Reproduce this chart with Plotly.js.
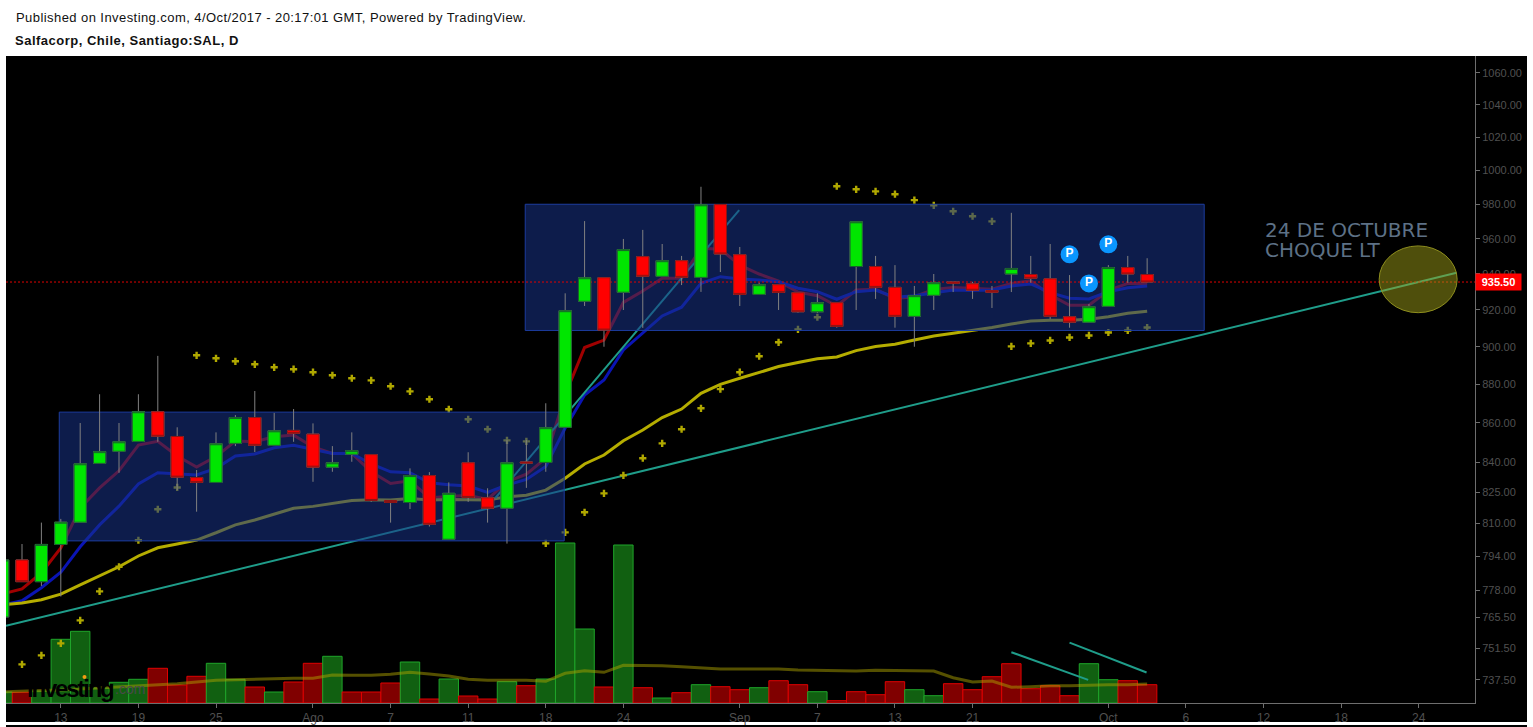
<!DOCTYPE html>
<html>
<head>
<meta charset="utf-8">
<script src="https://cdn.plot.ly/plotly-3.0.1.min.js"></script>
<style>html,body{margin:0;padding:0;background:#fff;overflow:hidden}#chart{width:1533px;height:727px}</style>
</head>
<body>
<div id="chart"></div>
<script>
// Session number of each daily bar (the first one is cut by the left edge)
var barIndex = [-1,0,1,2,3,4,5,6,7,8,9,10,11,12,13,14,15,16,17,18,19,20,21,22,23,24,25,26,27,28,29,30,31,32,33,34,35,36,37,38,39,40,41,42,43,44,45,46,47,48,49,50,51,52,53,54,55,56,57,58];

var opens = [765.8,792.3,782.1,799.7,810.4,839.4,845.5,850.5,865.7,853,832.3,829.9,849.5,862.7,848.5,856.1,854.2,837.5,844,843.8,821,820,833.3,802.2,839.7,822.3,817.2,840.1,839.9,857.7,924.8,937.9,929.8,949.8,938.7,947.5,938.1,979.8,950.9,928.6,934,929.5,919,924,944.2,944.2,932.5,916.5,928.1,935.5,934.5,930.7,940,939.7,937.3,916.3,913.3,922,943.6,939.7];
var closes = [792.3,782.1,799.7,810.4,839.2,845.3,850.3,865.7,853.1,832.5,829.9,849.3,862.7,848.5,855.9,854.6,837.5,839.7,845.8,821,820,833.3,809.4,824.5,822.5,817.2,839.7,839.6,857.5,919.6,937.9,909,953.8,938.7,947.5,938.1,979.7,951.3,928.6,934,929.7,919,924,911,969.8,932.5,916.5,927.9,935.1,934.8,930.9,929.8,943.1,937.6,916.5,913.3,921.8,943.6,940,935.5];
var highs = [792.3,799.9,810.2,812,859.9,874.8,859.9,874.8,895.1,857.7,836.1,855.1,864,876.5,865.1,867.1,859.7,848.1,855.1,843.8,821,836.9,835,829.9,845,827,851.2,851.2,870.1,929.2,970.2,937.9,959.9,965.1,957,950.2,990.3,979.8,955.3,935.1,934,929.5,929.2,924,969.8,950.2,945,933.3,940,935.5,935.6,933.3,975,950.2,957,939.4,923.3,945,950.2,948.9];
var lows = [765.8,782.1,780.1,775.2,810.4,839.4,834.7,850.5,850.3,826.1,815.5,829.9,848.1,845.1,848.5,850.3,830.2,835.2,840.2,820.3,810.2,816.8,808.3,802.2,820.3,810.2,800.1,827.2,835.2,857.7,922.2,900,920,910.2,938.7,933.8,930,941.1,922.2,928.6,920,918.5,918.3,910.3,920,926.1,910.3,900,920,929.9,926.1,921.1,929.9,935.1,915,910.3,913.3,922,935.1,935.5];

var fastMA = [776.4,778.7,786.2,798,817.3,827.2,835.7,848.6,850.5,843.1,837.6,842.8,850.7,850.3,852.9,853.7,847.7,844.4,844.4,835.2,829.4,830.7,822.3,823.1,823.6,821.5,830.2,834,842,874.4,899.6,903.6,924.2,930.5,937.6,937.6,954.6,954,945,940,936,929.9,927.9,922.2,931,931.4,926.4,927.3,931.4,932.5,931.9,931.5,934.7,936.2,928.3,922.6,922.6,930.8,934.7,934.7];
var midMA = [771.3,773.2,779.3,786.5,798.6,809.1,818.2,829.1,834.7,834.1,833.6,836.9,843.1,844.1,847.3,848.5,846.6,844.4,844.4,839.1,835.2,834.7,829.7,828.7,828.1,825,828.6,831.4,837.8,857.3,874.4,882.3,898.3,907.6,916.7,921.5,934.8,938.5,937.2,936.6,935.6,932,930.1,925.9,930.1,931,927,927.8,929.6,931,930.7,931,933.3,934.4,929.6,926.5,926.1,930.1,932.3,933.3];
var slowMA = [771.3,772.2,773.7,776.3,780.6,784.9,789.1,794.2,798.1,799.9,801.8,805.3,809.1,811.5,814.4,817.2,818.1,819.6,821,821.3,821.2,822,821.2,821.5,821.5,821.2,822.8,823.6,826.1,832,839.1,843.6,850.8,856.3,862.7,867.1,875.3,880,883.2,886.2,889.4,891.6,893.6,894.5,897.9,900.1,901.3,903.6,905.8,907.3,908.8,910.4,912.3,913.9,914.3,914.3,914.9,916.3,918.2,919.3];

var sarIndex = [0,1,2,3,4,5,6,7,8,9,10,11,12,13,14,15,16,17,18,19,20,21,22,23,24,25,26,27,28,29,30,31,32,33,34,35,36,37,38,39,40,41,42,43,44,45,46,47,48,49,50,51,52,53,54,55,56,57,58];
var sarValues = [744.4,748.4,753.8,764.2,777.6,789.1,801.7,816.7,827.4,895.4,893.8,892.2,890.6,889,888,886.4,884.8,883.2,882.1,879,876.3,872.2,867,861.8,856.7,851,850.5,800.2,805.5,815.2,824.5,833.4,842,849.5,856.7,867.5,877.5,886.4,894.9,902.4,909.4,916,990.6,988.8,987.6,985.9,982.4,979.4,975.9,973,970,900.2,901.8,903.4,905,906.1,907.7,908.8,910.4];

var volumes = [11,10.7,12,63.7,71.7,15,20.7,23.7,34.7,18,26.7,39.7,23.7,16,11,21,39.7,46.7,11,11,20,41,4,24,7,4,21.3,17.3,24,160,74,16,158,15.3,5,10.3,18.3,16.3,13.3,15.3,22.3,18.3,11.3,2.3,11.3,8.3,21.3,13.3,7.3,19.3,13.3,26.3,39.3,14.3,17.3,7.3,39.3,23.3,22.3,18.3];
var volumeUp = [1,0,1,1,1,1,1,1,0,0,0,1,1,0,1,0,0,1,0,0,0,1,0,1,0,0,1,0,1,1,1,0,1,0,1,0,1,0,0,1,0,0,1,0,0,0,0,1,1,0,0,0,0,0,0,0,1,1,0,0];
var volumeMA = [11,12,12.5,13,14,15,16,17.7,18.7,19.3,21,22.7,23.3,24,24.3,24.7,24.7,28,27.7,27.7,28.7,30.7,29,27,23.7,22.7,22.7,22.7,21.7,29.7,32.3,30.7,37.7,37.7,37.3,36.3,35.3,34,34,34,34,33,32.7,32,32,32.7,32.7,32,32,25.3,21,22,15.7,16.3,17.3,17.3,18,18.3,18.3,19];

// Hand-drawn studies
var trendX = [-0.825,73.95];
var trendY = [761.7,940.7];
var steepX = [24.4,36.97];
var steepY = [822.2,976.6];
var volLine1X = [51,54.96];
var volLine1Y = [749.8,737.5];
var volLine2X = [54,57.97];
var volLine2Y = [754.1,740.8];
var box1X = [1.92,27.95,27.95,1.92,1.92];
var box1Y = [801.4,801.4,865.5,865.5,801.4];
var box2X = [25.94,60.94,60.94,25.94,25.94];
var box2Y = [908.8,908.8,980,980,908.8];
var ellipseX = [69.96,73.98];
var ellipseY = [918.5,955.9];
var lastPrice = 935.5;
var priceLineX = [-0.825,74.9];
var pivotX = [54,55,56];
var pivotY = [951.1,934.7,956.8];

var priceTicks = [1060,1040,1020,1000,980,960,940,920,900,880,860,840,825,810,794,778,765.5,751.5,737.5];
var priceTickText = ['1060.00','1040.00','1020.00','1000.00','980.00','960.00','940.00','920.00','900.00','880.00','860.00','840.00','825.00','810.00','794.00','778.00','765.50','751.50','737.50'];
var dateTicks = [2,6,10,15,19,23,27,31,37,41,45,49,56,60,64,68,72];
var dateTickText = ['13','19','25','Ago','7','11','18','24','Sep','7','13','21','Oct','6','12','18','24'];

var FONT = '"Liberation Sans", Arial, sans-serif';
var PL = 6, PR = 1475, PT = 56, PB = 703;
function px(x){ return (x - PL) / (PR - PL); }
function py(y){ return (PB - y) / (PB - PT); }
var xRange = [-0.825, 74.9];
var logRange = [2.86177, 3.02971];

function line(x, y, color, width, dash){
  return {type:'scatter', mode:'lines', x:x, y:y, xaxis:'x2', yaxis:'y2', hoverinfo:'skip',
          line:{color:color, width:width, dash:dash || 'solid'}};
}
function box(x, y){
  return {type:'scatter', mode:'lines', x:x, y:y, xaxis:'x2', yaxis:'y2', hoverinfo:'skip',
          fill:'toself', fillcolor:'rgba(24,51,136,0.55)', line:{color:'#1c3c9e', width:1}};
}

var bodyHigh = opens.map(function(o,i){ return Math.max(o, closes[i]); });
var bodyLow = opens.map(function(o,i){ return Math.min(o, closes[i]); });

var traces = [
  // Volume pane
  {type:'bar', x:barIndex, y:volumes, xaxis:'x', yaxis:'y', width:1, hoverinfo:'skip',
   marker:{color:volumeUp.map(function(u){ return u ? '#116011' : '#800000'; }),
           line:{width:1, color:volumeUp.map(function(u){ return u ? '#1fa52a' : '#e00000'; })}}},
  {type:'scatter', mode:'lines', x:barIndex, y:volumeMA, xaxis:'x', yaxis:'y', hoverinfo:'skip',
   line:{color:'rgba(170,160,0,0.5)', width:3}},
  // Price pane: everything that the blue boxes tint
  line(barIndex, fastMA, '#a00000', 3),
  line(barIndex, midMA, '#0a14b4', 3),
  line(barIndex, slowMA, '#b5ad00', 3),
  line(trendX, trendY, '#1f9d8a', 2),
  line(steepX, steepY, '#1f9d8a', 2),
  line(volLine1X, volLine1Y, '#1f9d8a', 2),
  line(volLine2X, volLine2Y, '#1f9d8a', 2),
  {type:'scatter', mode:'markers', x:sarIndex, y:sarValues, xaxis:'x2', yaxis:'y2', hoverinfo:'skip',
   marker:{symbol:'cross', size:6, color:'#b0a800'}},
  box(box1X, box1Y),
  box(box2X, box2Y),
  line(priceLineX, [lastPrice, lastPrice], '#e00000', 1, '2px,2px'),
  // Candles: wicks, then bodies on top
  {type:'candlestick', x:barIndex, open:opens, high:highs, low:lows, close:closes, xaxis:'x3', yaxis:'y3',
   hoverinfo:'skip', whiskerwidth:0,
   increasing:{line:{color:'#808080', width:1}, fillcolor:'#808080'},
   decreasing:{line:{color:'#808080', width:1}, fillcolor:'#808080'}},
  {type:'candlestick', x:barIndex, open:opens, high:bodyHigh, low:bodyLow, close:closes, xaxis:'x3', yaxis:'y3',
   hoverinfo:'skip', whiskerwidth:0,
   increasing:{line:{color:'#18602c', width:1}, fillcolor:'#00e600'},
   decreasing:{line:{color:'#8c1414', width:1}, fillcolor:'#ff0000'}},
  {type:'scatter', mode:'markers+text', x:pivotX, y:pivotY, xaxis:'x3', yaxis:'y3', hoverinfo:'skip',
   text:['P','P','P'], textposition:'middle center',
   textfont:{family:FONT, size:12, color:'#ffffff', weight:'bold'},
   marker:{symbol:'circle', size:18, color:'#0a96ff'}}
];

var layout = {
  width:1533, height:727, autosize:false, showlegend:false,
  margin:{l:PL, r:1533-PR, t:PT, b:727-PB, pad:0},
  paper_bgcolor:'#ffffff', plot_bgcolor:'#000000',
  font:{family:FONT, size:11, color:'#505050'},
  bargap:0, boxmode:'overlay', boxgap:0.37, boxgroupgap:0,
  xaxis:{type:'linear', range:xRange, tickmode:'array', tickvals:dateTicks, ticktext:dateTickText,
         showgrid:false, zeroline:false, showline:true, linecolor:'#6e6e6e', linewidth:1,
         ticks:'outside', ticklen:4, tickcolor:'#6e6e6e', tickfont:{family:FONT, size:12, color:'#505050'},
         rangeslider:{visible:false}},
  yaxis:{range:[0,647], visible:false, showgrid:false, zeroline:false},
  xaxis2:{type:'linear', range:xRange, overlaying:'x', visible:false, showgrid:false, zeroline:false},
  yaxis2:{type:'log', range:logRange, overlaying:'y', side:'right', anchor:'x2', tickmode:'array',
          tickvals:priceTicks, ticktext:priceTickText, showgrid:false, zeroline:false,
          showline:true, linecolor:'#6e6e6e', linewidth:1, ticks:'outside', ticklen:4, tickcolor:'#6e6e6e',
          tickfont:{family:FONT, size:11, color:'#505050'}},
  xaxis3:{type:'linear', range:xRange, overlaying:'x', visible:false, showgrid:false, zeroline:false,
          rangeslider:{visible:false}},
  yaxis3:{type:'log', range:logRange, overlaying:'y', visible:false, showgrid:false, zeroline:false, anchor:'x3'},
  shapes:[
    {type:'rect', xref:'paper', yref:'paper', layer:'below', x0:0, x1:px(1527), y0:py(722), y1:1,
     fillcolor:'#000000', line:{width:0}},
    {type:'rect', xref:'paper', yref:'paper', layer:'below', x0:0, x1:px(1527), y0:py(728), y1:py(725),
     fillcolor:'#000000', line:{width:0}},
    {type:'circle', xref:'x2', yref:'y2', layer:'above', x0:ellipseX[0], x1:ellipseX[1], y0:ellipseY[0], y1:ellipseY[1],
     fillcolor:'rgba(165,165,25,0.48)', line:{color:'#8f8f1e', width:1}},
    {type:'circle', xref:'paper', yref:'paper', layer:'above', x0:px(82.5), x1:px(86.5), y0:py(679), y1:py(675),
     fillcolor:'#f39c12', line:{width:0}}
  ],
  annotations:[
    {xref:'paper', yref:'paper', x:px(14), y:py(17), xanchor:'left', yanchor:'middle', showarrow:false,
     text:'<span style="letter-spacing:0.43px">Published on Investing.com, 4/Oct/2017 - 20:17:01 GMT, Powered by TradingView.</span>',
     font:{family:FONT, size:13, color:'#111111'}},
    {xref:'paper', yref:'paper', x:px(13), y:py(41), xanchor:'left', yanchor:'middle', showarrow:false,
     text:'<span style="letter-spacing:0.5px"><b>Salfacorp, Chile, Santiago:SAL, D</b></span>',
     font:{family:FONT, size:13, color:'#111111'}},
    {xref:'paper', yref:'paper', x:px(1263), y:py(230), xanchor:'left', yanchor:'middle', showarrow:false,
     text:'24 DE OCTUBRE', font:{family:'"DejaVu Sans", Verdana, sans-serif', size:20, color:'#5d7186'}},
    {xref:'paper', yref:'paper', x:px(1263), y:py(250), xanchor:'left', yanchor:'middle', showarrow:false,
     text:'CHOQUE LT', font:{family:'"DejaVu Sans", Verdana, sans-serif', size:20, color:'#5d7186'}},
    {xref:'paper', yref:'paper', x:px(1475), y:py(282), xanchor:'left', yanchor:'middle', showarrow:false,
     text:'<b>935.50</b>', width:45, height:16, align:'center', bgcolor:'#ff0000', borderpad:0,
     font:{family:FONT, size:11, color:'#ffffff'}},
    {xref:'paper', yref:'paper', x:px(25), y:py(688), xanchor:'left', yanchor:'middle', showarrow:false,
     text:'<span style="letter-spacing:-2.2px"><b>Investing</b></span>',
     font:{family:FONT, size:24, color:'#000000'}},
    {xref:'paper', yref:'paper', x:px(113), y:py(689), xanchor:'left', yanchor:'middle', showarrow:false,
     text:'.com', font:{family:FONT, size:14, color:'#4a4a4a'}}
  ]
};

Plotly.newPlot('chart', traces, layout, {displayModeBar:false, staticPlot:true});
</script>
</body>
</html>
